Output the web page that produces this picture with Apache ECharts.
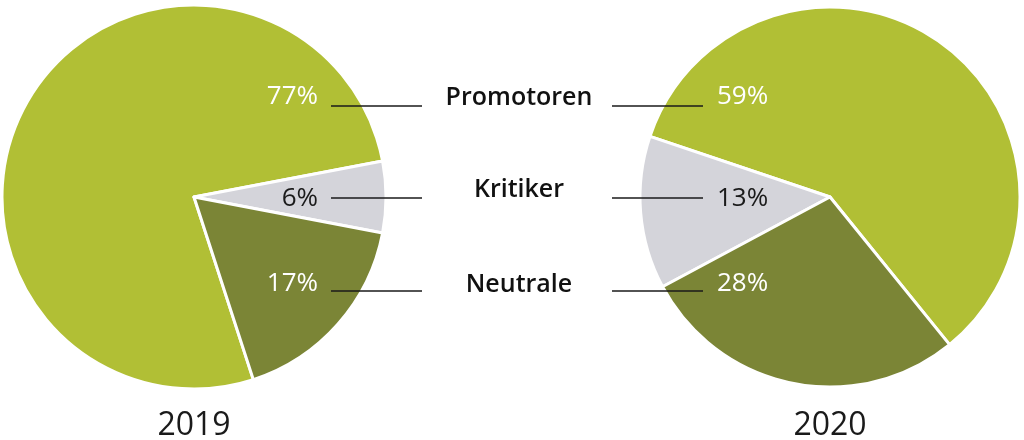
<!DOCTYPE html>
<html>
<head>
<meta charset="utf-8">
<script src="https://cdn.jsdelivr.net/npm/echarts@6/dist/echarts.min.js"></script>
<style>
html,body{margin:0;padding:0;background:#fff;}
#chart{width:1024px;height:440px;}
</style>
</head>
<body>
<div id="chart"></div>
<script>
const categories = ['Promotoren', 'Kritiker', 'Neutrale'];
const years = ['2019', '2020'];
const values2019 = [77, 6, 17];
const values2020 = [59, 13, 28];

const colors = ['#b1bf35', '#d4d4da', '#7b8536'];
const labelColors = ['#ffffff', '#1a1a1a', '#ffffff'];
const rowLabelY = [97, 199, 284];
const rowLineY = [106, 198, 291];
const rowNameY = [98, 190, 285];
const FONT = '"Open Sans", "Noto Sans", sans-serif';

function makeData(values) {
  return categories.map((name, i) => ({
    name: name,
    value: values[i],
    itemStyle: { color: colors[i] },
    label: { color: labelColors[i] }
  }));
}

const chart = echarts.init(document.getElementById('chart'), null, { renderer: 'canvas' });

const graphics = [];
categories.forEach((name, i) => {
  graphics.push({
    type: 'line', silent: true, z: 100,
    shape: { x1: 331, y1: rowLineY[i], x2: 422, y2: rowLineY[i] },
    style: { stroke: '#1a1a1a', lineWidth: 1.5 }
  });
  graphics.push({
    type: 'line', silent: true, z: 100,
    shape: { x1: 612, y1: rowLineY[i], x2: 703, y2: rowLineY[i] },
    style: { stroke: '#1a1a1a', lineWidth: 1.5 }
  });
  graphics.push({
    type: 'text', silent: true, z: 100,
    x: 519, y: rowNameY[i],
    style: {
      text: name, fill: '#111', font: '600 25px ' + FONT,
      textAlign: 'center', textVerticalAlign: 'middle'
    }
  });
});
const yearX = [194, 830];
years.forEach((y, i) => {
  graphics.push({
    type: 'text', silent: true, z: 100,
    x: yearX[i], y: 426,
    style: {
      text: y, fill: '#1a1a1a', font: '400 32px ' + FONT,
      textAlign: 'center', textVerticalAlign: 'middle'
    }
  });
});

const labelStyle = {
  show: true,
  position: 'inside',
  formatter: '{c}%',
  fontFamily: FONT,
  fontSize: 26,
  fontWeight: 500
};

chart.setOption({
  animation: false,
  backgroundColor: '#ffffff',
  graphic: graphics,
  series: [
    {
      type: 'pie',
      name: years[0],
      center: [194, 197],
      radius: 192,
      startAngle: 288,
      clockwise: true,
      silent: true,
      emphasis: { disabled: true },
      itemStyle: { borderColor: '#ffffff', borderWidth: 3 },
      label: labelStyle,
      labelLine: { show: false },
      labelLayout: function (p) {
        return { x: 318, y: rowLabelY[p.dataIndex], align: 'right', verticalAlign: 'middle' };
      },
      data: makeData(values2019)
    },
    {
      type: 'pie',
      name: years[1],
      center: [830, 197],
      radius: 190,
      startAngle: -51,
      clockwise: false,
      silent: true,
      emphasis: { disabled: true },
      itemStyle: { borderColor: '#ffffff', borderWidth: 3 },
      label: labelStyle,
      labelLine: { show: false },
      labelLayout: function (p) {
        return { x: 717, y: rowLabelY[p.dataIndex], align: 'left', verticalAlign: 'middle' };
      },
      data: makeData(values2020)
    }
  ]
});
</script>
</body>
</html>
